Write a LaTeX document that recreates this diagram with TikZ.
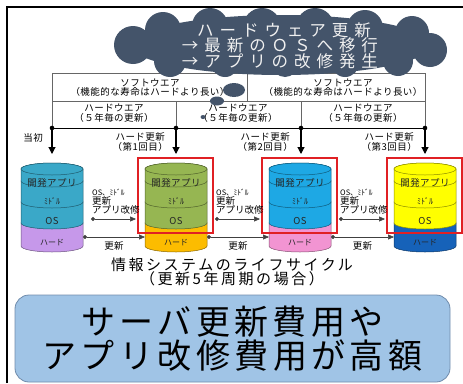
\documentclass[tikz,border=0pt]{standalone}
\usepackage{fontspec}
\setmainfont{Noto Sans CJK JP}
\usepackage{tikz}
\usetikzlibrary{positioning, calc, arrows.meta}

\definecolor{cloudSlate}{RGB}{68, 84, 106}
\definecolor{noteBlue}{RGB}{160, 196, 230}
\definecolor{noteEdge}{RGB}{112, 140, 172}
\definecolor{tealA}{RGB}{58, 168, 200}
\definecolor{violetA}{RGB}{198, 152, 234}
\definecolor{oliveB}{RGB}{150, 182, 82}
\definecolor{goldB}{RGB}{252, 188, 0}
\definecolor{skyC}{RGB}{30, 168, 228}
\definecolor{pinkC}{RGB}{242, 148, 210}
\definecolor{lemonD}{RGB}{255, 255, 0}
\definecolor{navyD}{RGB}{22, 98, 185}
\definecolor{boxRed}{RGB}{224, 32, 36}

% tight lines in the multi-line labels
\lineskiplimit=-100pt
\lineskip=0pt

% one layer of a disk stack: centre x, top y, bottom y, colour
\newcommand{\drawdisk}[4]{%
  \filldraw[fill=#4, draw=#4!55!black, line width=0.5pt]
    (#1-31,#2) -- (#1-31,#3)
    arc[start angle=180, end angle=360, x radius=31pt, y radius=6pt]
    -- (#1+31,#2)
    arc[start angle=0, end angle=180, x radius=31pt, y radius=6pt] -- cycle;
}

\begin{document}
\begin{tikzpicture}[
    x=1pt, y=-1pt,
    cell/.style={font={\fontsize{9.5}{9.5}\selectfont\addfontfeature{LetterSpace=5}}, align=center, inner sep=0pt},
    disklabel/.style={font={\fontsize{9.5}{9.5}\selectfont\addfontfeature{LetterSpace=4}}, text=black!85, inner sep=0pt},
    hwlabel/.style={font={\fontsize{8}{8}\selectfont}, text=black!85, inner sep=0pt},
    steplabel/.style={font={\fontsize{9.5}{9}\selectfont}, align=left, inner sep=0pt},
    cloudline/.style={anchor=base, inner sep=0pt, text=white!94!black,
                      font={\fontsize{16.5}{16}\selectfont\addfontfeature{LetterSpace=36}}},
    update/.style={{Circle[length=4pt]}-{Triangle[length=6pt,width=5pt]}, line width=0.6pt, black!75},
    drop/.style={-{Triangle[length=7pt,width=7pt]}, line width=1.1pt},
    newframe/.style={draw=boxRed, line width=1.6pt},
  ]

    \useasboundingbox (0,0) rectangle (463,383);

    % Frame
    \draw[line width=1.2pt] (7,383) -- (7,7) -- (463,7);

    % Lifetime table
    \draw[black!60, line width=0.6pt] (52,73) rectangle (425,101) (247,73) -- (247,101);
    \foreach \x in {52,176,301,425} {
      \draw[black!60, line width=0.6pt] (\x,101) -- (\x,128);
    }
    \draw[line width=1pt] (52,128) -- (425,128);

    \node[cell] (soft1) at (150,87.5) {ソフトウエア\\（機能的な寿命はハードより長い）};
    \node[cell] (soft2) at (343,87.5) {ソフトウエア\\（機能的な寿命はハードより長い）};
    \node[cell] (hard1) at (114,113) {ハードウエア\\（５年毎の更新）};
    \node[cell] (hard2) at (238,113) {ハードウエア\\（５年毎の更新）};
    \node[cell] (hard3) at (363,113) {ハードウエア\\（５年毎の更新）};

    % Update points
    \foreach \x [count=\i] in {52,176,301,425} {
      \fill (\x,128) circle (2.3pt);
      \coordinate (tick\i) at (\x,128);
      \coordinate (drop\i) at (\x,154);
      \draw[drop] (tick\i) -- (drop\i);
    }
    \node[cell, left=9pt] (first) at ($(tick1)!0.38!(drop1)$) {当初};
    \node[cell, left=8pt] (renew1) at ($(tick2)!0.54!(drop2)$) {ハード更新\\（第1回目）};
    \node[cell, left=8pt] (renew2) at ($(tick3)!0.54!(drop3)$) {ハード更新\\（第2回目）};
    \node[cell, left=8pt] (renew3) at ($(tick4)!0.54!(drop4)$) {ハード更新\\（第3回目）};

    % Disk stacks
    \foreach \cx/\body/\base [count=\i] in {52/tealA/violetA, 176/oliveB/goldB, 300/skyC/pinkC, 425/lemonD/navyD} {
      \drawdisk{\cx}{223}{246}{\base}
      \drawdisk{\cx}{202}{223}{\body}
      \drawdisk{\cx}{181}{202}{\body}
      \drawdisk{\cx}{169}{181}{\body}
      \filldraw[fill=\body, draw=\body!55!black, line width=0.5pt] (\cx,169) ellipse [x radius=31pt, y radius=6pt];
      \node[disklabel] (app\i) at (\cx,183) {開発アプリ};
      \node[hwlabel] (mid\i) at (\cx,201) {ﾐﾄﾞﾙ};
      \node[disklabel] (os\i) at (\cx,221) {OS};
      \node[hwlabel] (hw\i) at (\cx,243) {ハード};
      \coordinate (osL\i) at (\cx-40,219);
      \coordinate (osR\i) at (\cx+39,219);
      \coordinate (hwL\i) at (\cx-31,237);
      \coordinate (hwR\i) at (\cx+31,237);
    }

    % Replaced software
    \foreach \cx in {176,300,425} {
      \draw[newframe] (\cx-38,158) rectangle (\cx+37,233);
    }

    % Updates between stacks
    \foreach \i/\j in {1/2, 2/3, 3/4} {
      \draw[update] (osR\i) -- (osL\j);
      \draw[update] (hwR\i) -- (hwL\j);
      \node[steplabel, above right=5pt and 1pt of osR\i] (fix\i)
        {{\fontsize{7.5}{8}\selectfont OS、ﾐﾄﾞﾙ}\\更新\\アプリ改修};
      \node[cell, below=4pt] (hwnew\i) at ($(hwR\i)!0.5!(hwL\j)$) {更新};
    }

    % Caption
    \node[align=center, inner sep=0pt, font={\fontsize{15}{13.5}\selectfont\addfontfeature{LetterSpace=17}}]
      (cycle) at (232,272) {情報システムのライフサイクル\\（更新5年周期の場合）};

    % Cost note
    \node[draw=noteEdge, fill=noteBlue, line width=0.8pt, rounded corners=14pt,
          minimum width=435pt, minimum height=87pt, align=center, inner sep=0pt,
          font={\fontsize{34}{34}\selectfont\addfontfeature{LetterSpace=13}}]
      (cost) at (232.5,338.5) {サーバ更新費用や\\アプリ改修費用が高額};

    % Thought cloud: a body with puffs round it
    \fill[cloudSlate] (281,45) ellipse [x radius=150pt, y radius=30pt];
    \foreach \px/\py/\r in {133/45/19, 163/30/18, 210/26/18, 262/27/19, 315/27/19,
                            365/28/18, 412/33/17, 430/50/17, 398/61/15, 345/63/14,
                            285/64/13, 225/63/14, 170/61/16} {
      \fill[cloudSlate] (\px,\py) circle (\r pt);
    }
    \fill[cloudSlate] (234,90) ellipse [x radius=11pt, y radius=7pt];
    \fill[cloudSlate] (217,101) ellipse [x radius=7pt, y radius=4.5pt];
    \fill[cloudSlate] (203,117) ellipse [x radius=2.5pt, y radius=2pt];
    \node[cloudline] (cloud1) at (284,36) {ハードウェア更新};
    \node[cloudline] (cloud2) at (280,51.5) {→最新のＯＳへ移行};
    \node[cloudline] (cloud3) at (280,67) {→アプリの改修発生};
  \end{tikzpicture}
\end{document}
